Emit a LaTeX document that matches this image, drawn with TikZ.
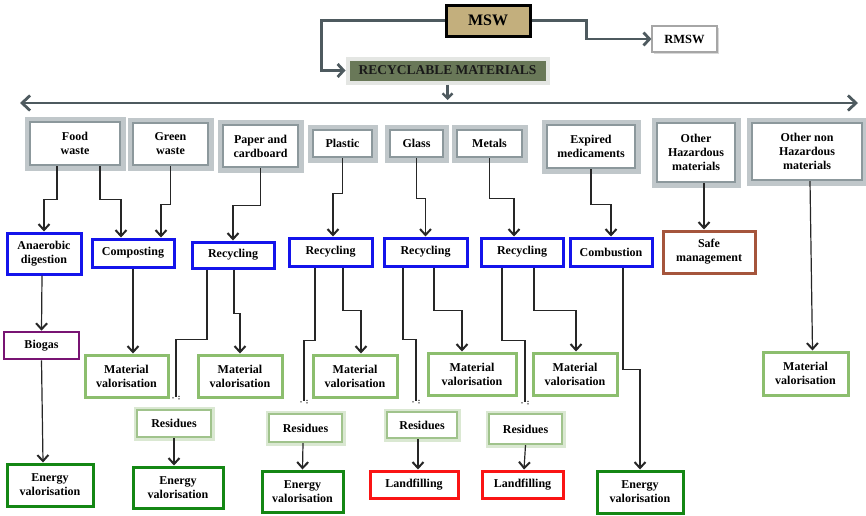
\documentclass[tikz,border=0pt]{standalone}
\usepackage{fontspec}
\setmainfont{Liberation Serif}
\usetikzlibrary{arrows.meta,calc,shadows}
\definecolor{catHalo}{RGB}{192,199,202}
\definecolor{catBorder}{RGB}{140,152,156}
\definecolor{blueB}{RGB}{20,20,235}
\definecolor{brownB}{RGB}{165,85,60}
\definecolor{purpleB}{RGB}{120,20,115}
\definecolor{mvGreen}{RGB}{140,190,110}
\definecolor{resGreen}{RGB}{160,195,140}
\definecolor{resHalo}{RGB}{218,232,210}
\definecolor{evGreen}{RGB}{20,135,20}
\definecolor{redB}{RGB}{250,20,20}
\definecolor{mswFill}{RGB}{195,175,125}
\definecolor{recFill}{RGB}{105,120,88}
\definecolor{recHalo}{RGB}{228,230,227}
\definecolor{arrowGray}{RGB}{78,90,95}
\begin{document}
\begin{tikzpicture}[x=1pt,y=-1pt,
  base/.style={rectangle, inner sep=0pt, align=center, fill=white,
    font=\fontsize{12}{14}\selectfont\bfseries},
  cat/.style={base, draw=catBorder, line width=2.2pt, preaction={draw=catHalo, line width=11pt}},
  bluebox/.style={base, draw=blueB, line width=3pt},
  brownbox/.style={base, draw=brownB, line width=3pt},
  purplebox/.style={base, draw=purpleB, line width=2.6pt},
  mvbox/.style={base, draw=mvGreen, line width=3pt},
  resbox/.style={base, draw=resGreen, line width=2.2pt, preaction={draw=resHalo, line width=7pt}},
  evbox/.style={base, draw=evGreen, line width=3pt},
  lfbox/.style={base, draw=redB, line width=3pt},
  conn/.style={draw=black!85, line width=1.2pt, -{Straight Barb[length=6pt,width=11pt,line width=2pt]}},
  plainline/.style={draw=black!85, line width=1.2pt},
  big/.style={draw=arrowGray, line width=2.8pt, -{Straight Barb[length=6pt,width=13pt]}},
  tipdots/.pic={\fill[black!85] (-3,1) circle (0.8); \fill[black!85] (3,-0.5) circle (0.8); \fill[black!85] (3,2) circle (0.8);}
]
\useasboundingbox (0,0) rectangle (866,515);

% top
\node[base, draw=black, line width=3pt, fill=mswFill, minimum width=84, minimum height=31,
  font=\fontsize{16}{16}\selectfont\bfseries] (msw) at (488,20.5) {MSW};
\node[base, draw=gray!70, line width=1.2pt, minimum width=65, minimum height=26,
  drop shadow={shadow xshift=1.5pt, shadow yshift=-1.5pt, fill=gray!60},
  font=\fontsize{12.5}{14}\selectfont\bfseries] (rmsw) at (684.5,39) {RMSW};
\node[base, draw=recHalo, line width=4pt, fill=recFill, minimum width=200, minimum height=24,
  font=\fontsize{13.5}{14}\selectfont\bfseries, text=black!90] (rec) at (447.5,70.5) {RECYCLABLE MATERIALS};
\draw[big] (msw.west) -- ++(-123,0) |- (rec.west);
\draw[big] (msw.east) -- ++(55,0) |- (rmsw.west);
\coordinate (L) at (20,103);
\coordinate (R) at (858,103);
\draw[draw=arrowGray, line width=2.8pt, {Straight Barb[length=8pt,width=15pt]}-{Straight Barb[length=8pt,width=15pt]}] (L) -- (R);
\draw[draw=arrowGray, line width=2.4pt, -{Straight Barb[length=5pt,width=10pt]}, shorten >=3pt] (rec.south) -- (rec.south |- L);

% categories
\node[cat, minimum width=90, minimum height=43] (food) at (75,143.5) {Food\\waste};
\node[cat, minimum width=75, minimum height=42] (green) at (170.5,144) {Green\\waste};
\node[cat, minimum width=75, minimum height=42] (paper) at (260.5,146) {Paper and\\cardboard};
\node[cat, minimum width=59, minimum height=27] (plastic) at (342.5,143.5) {Plastic};
\node[cat, minimum width=53, minimum height=27] (glass) at (416.5,143.5) {Glass};
\node[cat, minimum width=65, minimum height=27] (metals) at (489.5,143.5) {Metals};
\node[cat, minimum width=88, minimum height=43] (expired) at (591,146.5) {Expired\\medicaments};
\node[cat, minimum width=78, minimum height=59] (ohaz) at (696,152.5) {Other\\Hazardous\\materials};
\node[cat, minimum width=110, minimum height=57] (onh) at (807,151.5) {Other non\\Hazardous\\materials};

% second level
\node[bluebox, minimum width=74, minimum height=41] (ad) at (44,253.5) {Anaerobic\\digestion};
\node[bluebox, minimum width=82, minimum height=28] (comp) at (133,253) {Composting};
\node[bluebox, minimum width=82, minimum height=26] (rec1) at (233,255) {Recycling};
\node[bluebox, minimum width=83, minimum height=28] (rec2) at (330.5,252) {Recycling};
\node[bluebox, minimum width=83, minimum height=28] (rec3) at (425.5,252) {Recycling};
\node[bluebox, minimum width=82, minimum height=28] (rec4) at (522,252) {Recycling};
\node[bluebox, minimum width=82, minimum height=28] (comb) at (611,252) {Combustion};
\node[brownbox, minimum width=92, minimum height=42] (safe) at (709,252) {Safe\\management};

% third level
\node[purplebox, minimum width=75, minimum height=27] (biogas) at (41.5,345.5) {Biogas};
\node[mvbox, minimum width=83, minimum height=42] (mv1) at (126.5,376) {Material\\valorisation};
\node[mvbox, minimum width=84, minimum height=42] (mv2) at (240,376) {Material\\valorisation};
\node[mvbox, minimum width=84, minimum height=42] (mv3) at (355,376) {Material\\valorisation};
\node[mvbox, minimum width=88, minimum height=42] (mv4) at (472,374) {Material\\valorisation};
\node[mvbox, minimum width=84, minimum height=42] (mv5) at (575,374) {Material\\valorisation};
\node[mvbox, minimum width=85, minimum height=43] (mv6) at (805.5,373.5) {Material\\valorisation};

% residues
\node[resbox, minimum width=74, minimum height=27] (res1) at (174,423.5) {Residues};
\node[resbox, minimum width=73, minimum height=28] (res2) at (305.5,428) {Residues};
\node[resbox, minimum width=70, minimum height=26] (res3) at (422,425) {Residues};
\node[resbox, minimum width=73, minimum height=30] (res4) at (525.5,429) {Residues};

% bottom
\node[evbox, minimum width=86, minimum height=42] (ev1) at (50,485) {Energy\\valorisation};
\node[evbox, minimum width=90, minimum height=41] (ev2) at (178,487.5) {Energy\\valorisation};
\node[evbox, minimum width=81, minimum height=41] (ev3) at (302.5,491.5) {Energy\\valorisation};
\node[lfbox, minimum width=88, minimum height=27] (lf1) at (414,484.5) {Landfilling};
\node[lfbox, minimum width=81, minimum height=27] (lf2) at (522.5,484.5) {Landfilling};
\node[evbox, minimum width=86, minimum height=42] (ev4) at (640,492) {Energy\\valorisation};

% category -> process
\draw[conn] ([xshift=-18]food.south) -- ++(0,33) -| (ad.north);
\draw[conn] ([xshift=25]food.south) -- ++(0,33) -| ([xshift=-12]comp.north);
\draw[conn] (green.south) -- ++(0,38) -| ([xshift=28]comp.north);
\draw[conn] (paper.south) -- ++(0,37) -| (rec1.north);
\draw[conn] (plastic.south) -- ++(0,35) -| ([xshift=2.5]rec2.north);
\draw[conn] (glass.south) -- ++(0,40) -| (rec3.north);
\draw[conn] (metals.south) -- ++(0,40) -| ([xshift=-8]rec4.north);
\draw[conn] (expired.south) -- ++(0,35) -| (comb.north);
\draw[conn] ([xshift=8]ohaz.south) -- ([xshift=-5]safe.north);
\draw[conn] ([xshift=3]onh.south) -- ([xshift=7]mv6.north);

% process -> outputs
\draw[conn] ([xshift=-2]ad.south) -- (biogas.north);
\draw[conn] (biogas.south) -- ([xshift=-7]ev1.north);
\draw[conn] (comp.south) -- ([xshift=6.5]mv1.north);
\draw[conn] ([xshift=1]rec1.south) -- ++(0,44) -| (mv2.north);
\draw[plainline, shorten >=12pt] ([xshift=-26]rec1.south) -- ++(0,70) -| ([xshift=2]res1.north);
\pic at ($(res1.north)+(2,-12)$) {tipdots};
\draw[conn] ([xshift=12.5]rec2.south) -- ++(0,43) -| ([xshift=6]mv3.north);
\draw[plainline, shorten >=12pt] ([xshift=-15.5]rec2.south) -- ++(0,73) -| ([xshift=-1.5]res2.north);
\pic at ($(res2.north)+(-1.5,-12)$) {tipdots};
\draw[conn] ([xshift=8.5]rec3.south) -- ++(0,43) -| ([xshift=-10]mv4.north);
\draw[plainline, shorten >=10pt] ([xshift=-22.5]rec3.south) -- ++(0,72) -| ([xshift=-6]res3.north);
\pic at ($(res3.north)+(-6,-10)$) {tipdots};
\draw[conn] ([xshift=12]rec4.south) -- ++(0,43) -| ([xshift=1]mv5.north);
\draw[plainline, shorten >=11pt] ([xshift=-20]rec4.south) -- ++(0,73) -| ([xshift=-0.5]res4.north);
\pic at ($(res4.north)+(-0.5,-11)$) {tipdots};
\draw[conn] ([xshift=12]comb.south) -- ++(0,102) -| (ev4.north);

% residues -> final
\draw[conn] (res1.south) -- ([xshift=-4]ev2.north);
\draw[conn] ([xshift=-2.5]res2.south) -- (ev3.north);
\draw[conn] ([xshift=-4]res3.south) -- ([xshift=4]lf1.north);
\draw[conn] (res4.south) -- ([xshift=1.5]lf2.north);
\end{tikzpicture}
\end{document}
